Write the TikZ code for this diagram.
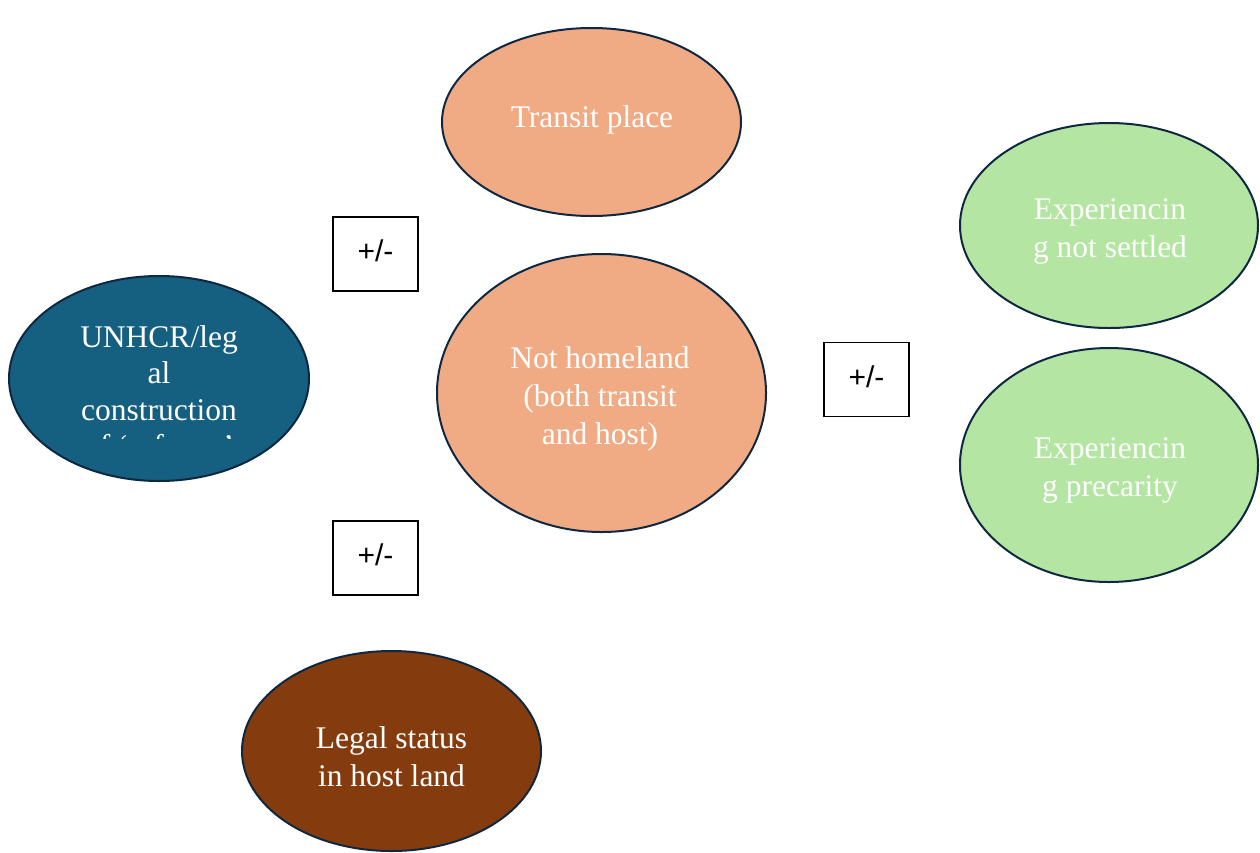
\documentclass[tikz,border=0pt]{standalone}
\usepackage{fontspec}
\setmainfont{Liberation Serif}
\newfontfamily\boxfont{Liberation Sans}
\usetikzlibrary{shapes.geometric}
\definecolor{peach}{HTML}{F1AB84}
\definecolor{teal}{HTML}{155F80}
\definecolor{mint}{HTML}{B4E5A2}
\definecolor{rust}{HTML}{843C0F}
\definecolor{outline}{HTML}{0E2841}
\tikzset{
  bubble/.style={ellipse, draw=outline, line width=2pt, inner sep=0pt},
  bubbletext/.style={text=white, align=center, inner sep=0pt,
    font=\fontsize{31.5}{38}\selectfont},
  signbox/.style={draw=black, line width=1.5pt, fill=white,
    minimum width=85pt, minimum height=74pt, inner sep=0pt,
    font=\boxfont\fontsize{30}{34}\selectfont}
}
\newcommand{\signtext}{\raisebox{6pt}{+/-}}
\begin{document}
\begin{tikzpicture}[x=1pt, y=-1pt]
\useasboundingbox (0,0) rectangle (1260,852);

% ellipses
\node[bubble, fill=peach, minimum width=299pt, minimum height=188pt] (transit) at (591.5,122) {};
\node[bubble, fill=peach, minimum width=329pt, minimum height=278pt] (home) at (601.5,393) {};
\node[bubble, fill=teal, minimum width=300pt, minimum height=205pt] (unhcr) at (159,378.5) {};
\node[bubble, fill=mint, minimum width=298pt, minimum height=205pt] (settled) at (1109,225.5) {};
\node[bubble, fill=mint, minimum width=298pt, minimum height=234pt] (precar) at (1109,465) {};
\node[bubble, fill=rust, minimum width=299pt, minimum height=200pt] (legal) at (391.5,751) {};

% labels
\node[bubbletext] (transitT) at (592,120) {Transit place};
\node[bubbletext] (homeT) at (600,399) {Not homeland\\(both transit\\and host)};
\node[bubbletext] (settledT) at (1110,231) {Experiencin\\g not settled};
\node[bubbletext] (precarT) at (1110,470.5) {Experiencin\\g precarity};
\node[bubbletext] (legalT) at (391.5,757) {Legal status\\in host land};
% the text frame of this bubble cuts its fourth line
\begin{scope}
  \clip (40,300) rectangle (280,438);
  \node[bubbletext, anchor=north, font=\fontsize{31.5}{36.5}\selectfont]
    (unhcrT) at (159,325) {UNHCR/leg\\al\\construction\\of ‘refugee’};
\end{scope}

% sign boxes
\node[signbox] (s1) at (375.5,254) {\signtext};
\node[signbox] (s2) at (375.5,558) {\signtext};
\node[signbox] (s3) at (866.5,379.5) {\signtext};
\end{tikzpicture}
\end{document}
